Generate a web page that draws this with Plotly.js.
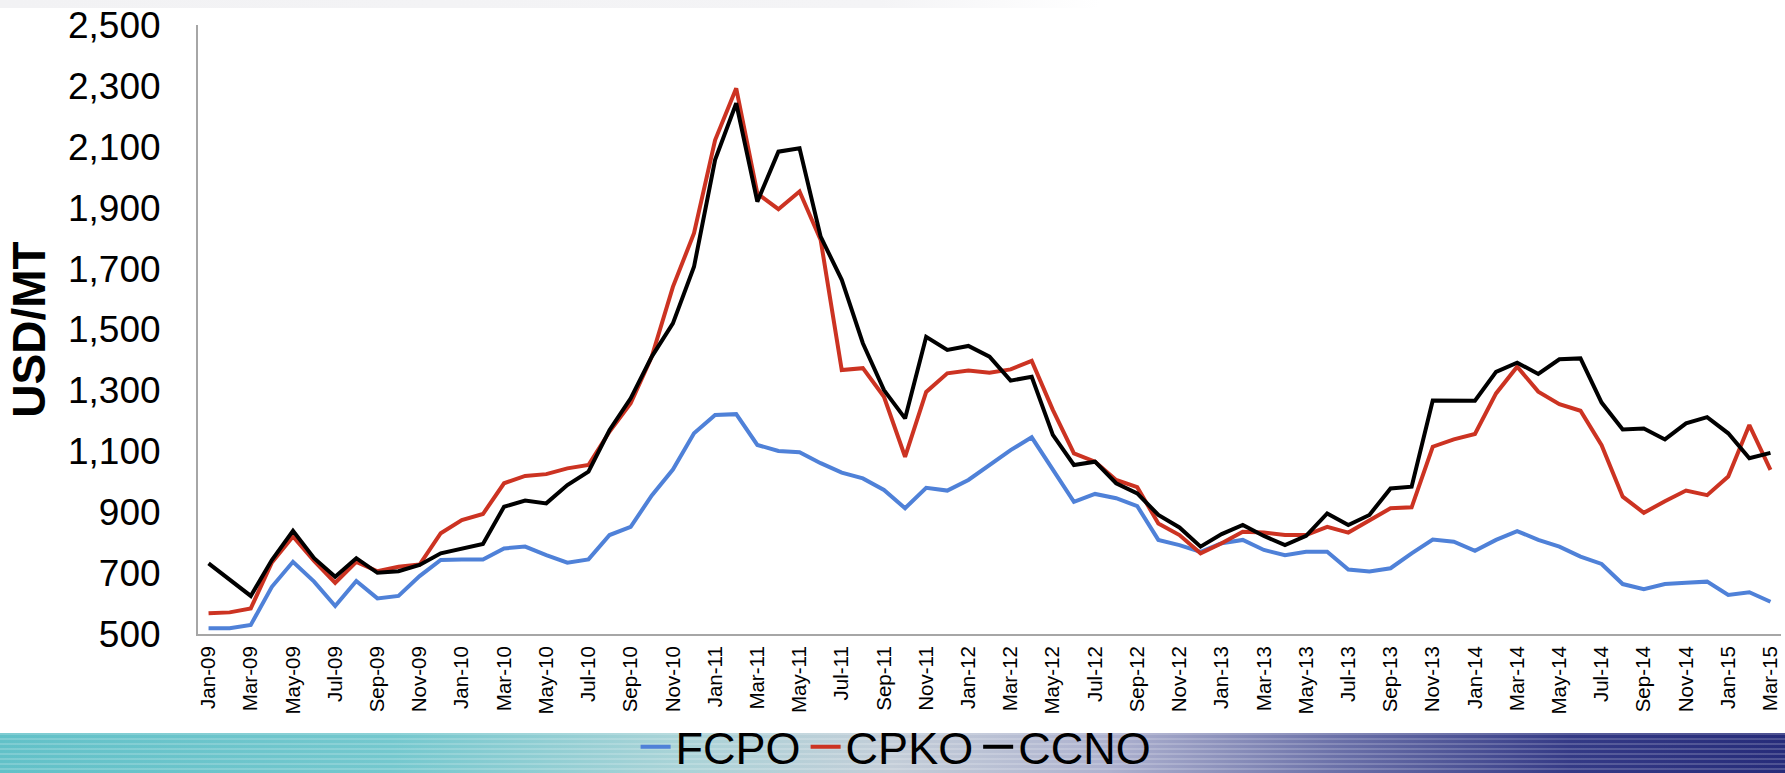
<!DOCTYPE html>
<html>
<head>
<meta charset="utf-8">
<script src="https://cdn.plot.ly/plotly-3.0.1.min.js"></script>
<style>
  html, body { margin: 0; padding: 0; background: #ffffff; }
  #wrap { position: relative; width: 1785px; height: 773px; overflow: hidden; background: #ffffff; }
  #topband { position: absolute; left: 0; top: 0; width: 1100px; height: 8px;
    background: linear-gradient(to right, #f2f2f4 0%, #f4f4f6 80%, rgba(255,255,255,0) 100%); }
  #band { position: absolute; left: 0; top: 733px; width: 1785px; height: 40px;
    background:
      repeating-linear-gradient(to bottom, rgba(255,255,255,0.18) 0px, rgba(255,255,255,0.18) 2px, rgba(255,255,255,0) 2px, rgba(255,255,255,0) 5px),
      linear-gradient(to right, #62c1c8 0%, #74c8ce 22%, #a9d3d7 38%, #c3cdd8 50%, #aeb2cf 62%, #6a70a8 75%, #343a86 88%, #272c7a 100%); }
  #chart { position: absolute; left: 0; top: 0; width: 1785px; height: 773px; }
</style>
</head>
<body>
<div id="wrap">
  <div id="topband"></div>
  <div id="band"></div>
  <div id="chart"></div>
</div>
<script>
// Month categories (Jan-09 .. Mar-15)
var months = [
  "Jan-09","Feb-09","Mar-09","Apr-09","May-09","Jun-09","Jul-09","Aug-09","Sep-09","Oct-09","Nov-09","Dec-09",
  "Jan-10","Feb-10","Mar-10","Apr-10","May-10","Jun-10","Jul-10","Aug-10","Sep-10","Oct-10","Nov-10","Dec-10",
  "Jan-11","Feb-11","Mar-11","Apr-11","May-11","Jun-11","Jul-11","Aug-11","Sep-11","Oct-11","Nov-11","Dec-11",
  "Jan-12","Feb-12","Mar-12","Apr-12","May-12","Jun-12","Jul-12","Aug-12","Sep-12","Oct-12","Nov-12","Dec-12",
  "Jan-13","Feb-13","Mar-13","Apr-13","May-13","Jun-13","Jul-13","Aug-13","Sep-13","Oct-13","Nov-13","Dec-13",
  "Jan-14","Feb-14","Mar-14","Apr-14","May-14","Jun-14","Jul-14","Aug-14","Sep-14","Oct-14","Nov-14","Dec-14",
  "Jan-15","Feb-15","Mar-15"
];

// Tick labels shown on the category axis (every second month)
var tickLabels = [
  "Jan-09","Mar-09","May-09","Jul-09","Sep-09","Nov-09",
  "Jan-10","Mar-10","May-10","Jul-10","Sep-10","Nov-10",
  "Jan-11","Mar-11","May-11","Jul-11","Sep-11","Nov-11",
  "Jan-12","Mar-12","May-12","Jul-12","Sep-12","Nov-12",
  "Jan-13","Mar-13","May-13","Jul-13","Sep-13","Nov-13",
  "Jan-14","Mar-14","May-14","Jul-14","Sep-14","Nov-14",
  "Jan-15","Mar-15"
];

// USD/MT
var fcpo = [
  519, 519, 530, 655, 737, 672, 592, 674, 617, 625, 690, 743,
  745, 745, 781, 787, 759, 734, 745, 825, 852, 955, 1040, 1159,
  1219, 1222, 1121, 1101, 1097, 1061, 1030, 1011, 973, 913, 980, 971,
  1006, 1055, 1104, 1146, 1039, 934, 960, 946, 920, 809, 792, 770,
  798, 809, 776, 759, 770, 770, 712, 705, 716, 765, 810, 803,
  773, 809, 838, 809, 787, 754, 730, 664, 647, 664, 668, 672,
  628, 637, 606
];
var cpko = [
  568, 571, 584, 735, 820, 740, 668, 737, 706, 721, 728, 831,
  874, 894, 995, 1019, 1025, 1044, 1055, 1165, 1258, 1411, 1640, 1816,
  2122, 2292, 1947, 1895, 1953, 1794, 1367, 1373, 1279, 1082, 1295, 1356,
  1365, 1358, 1369, 1397, 1236, 1093, 1066, 1006, 982, 863, 825, 765,
  798, 836, 833, 825, 825, 852, 833, 872, 913, 916, 1115, 1139,
  1157, 1290, 1378, 1296, 1255, 1233, 1120, 951, 898, 936, 971, 956,
  1017, 1186, 1039
];
var ccno = [
  732, 677, 625, 743, 839, 749, 688, 749, 701, 706, 727, 765,
  781, 796, 918, 938, 929, 989, 1033, 1170, 1274, 1411, 1520, 1706,
  2057, 2243, 1920, 2084, 2095, 1805, 1663, 1455, 1301, 1208, 1476, 1433,
  1446, 1411, 1332, 1345, 1154, 1055, 1066, 995, 962, 891, 850, 787,
  828, 858, 822, 792, 822, 896, 858, 891, 978, 984, 1267, 1266,
  1266, 1361, 1391, 1354, 1402, 1405, 1260, 1172, 1175, 1139, 1192, 1212,
  1159, 1077, 1095
];

var seriesNames = ["FCPO", "CPKO", "CCNO"];
var seriesColors = ["#4f81d8", "#cc3322", "#000000"];
var seriesData = [fcpo, cpko, ccno];

var traces = seriesData.map(function (vals, k) {
  return {
    type: "scatter",
    mode: "lines",
    name: seriesNames[k],
    x: months,
    y: vals,
    line: { color: seriesColors[k], width: 4 },
    hoverinfo: "x+y+name"
  };
});

var font = "'Liberation Sans', Arial, sans-serif";

var layout = {
  width: 1785,
  height: 773,
  margin: { l: 198, r: 4, t: 25, b: 139, pad: 0, autoexpand: false },
  paper_bgcolor: "rgba(0,0,0,0)",
  plot_bgcolor: "rgba(0,0,0,0)",
  font: { family: font, color: "#000000" },
  showlegend: true,
  legend: {
    orientation: "h",
    x: 0.441, xanchor: "center",
    y: -0.1856, yanchor: "middle",
    bgcolor: "rgba(0,0,0,0)",
    font: { family: font, size: 45, color: "#000000" },
    itemwidth: 30,
    tracegroupgap: 0
  },
  xaxis: {
    type: "category",
    categoryorder: "array",
    categoryarray: months,
    range: [-0.5, months.length - 0.5],
    tickmode: "array",
    tickvals: tickLabels,
    ticktext: tickLabels,
    tickangle: -90,
    tickfont: { family: font, size: 20.5, color: "#000000" },
    ticks: "outside",
    ticklen: 2,
    tickcolor: "rgba(0,0,0,0)",
    showline: true,
    linecolor: "#a6a6a6",
    linewidth: 2,
    showgrid: false,
    zeroline: false,
    fixedrange: true
  },
  yaxis: {
    range: [500, 2500],
    tick0: 500,
    dtick: 200,
    tickformat: ",d",
    tickfont: { family: font, size: 37, color: "#000000" },
    ticks: "outside",
    ticklen: 28,
    tickcolor: "rgba(0,0,0,0)",
    showline: true,
    linecolor: "#a6a6a6",
    linewidth: 2,
    showgrid: false,
    zeroline: false,
    fixedrange: true,
    title: {
      text: "<b>USD/MT</b>",
      font: { family: font, size: 46, color: "#000000" },
      standoff: 8
    }
  }
};

Plotly.newPlot("chart", traces, layout, { displayModeBar: false, staticPlot: false });
</script>
</body>
</html>
